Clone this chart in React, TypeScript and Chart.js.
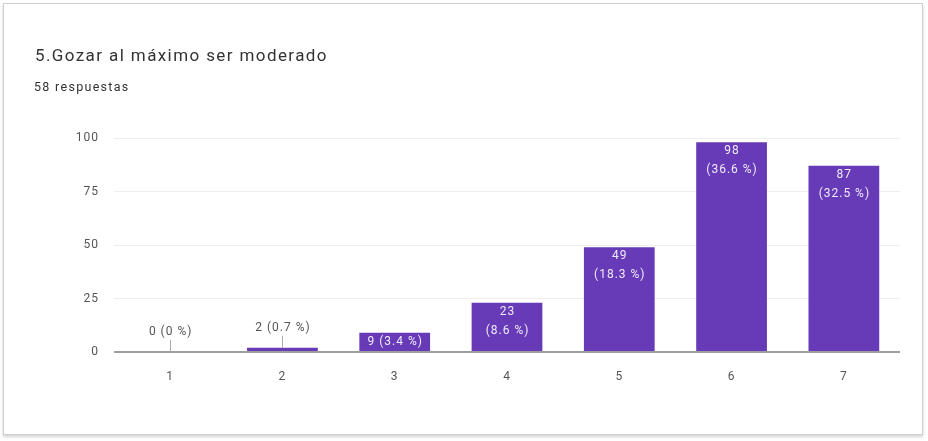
import React, { useEffect, useRef } from "react";
import { Chart, registerables } from "chart.js";

Chart.register(...registerables);

const TITLE = "5.Gozar al máximo ser moderado";
const SUBTITLE = "58 respuestas";
const CATEGORIES = ["1", "2", "3", "4", "5", "6", "7"];
const COUNTS = [0, 2, 9, 23, 49, 98, 87];
const Y_TICKS = [0, 25, 50, 75, 100];
const BAR_COLOR = "#673ab7";
const FONT = "Roboto, 'Liberation Sans', Arial, sans-serif";

const total = COUNTS.reduce((a, b) => a + b, 0);
function pctText(v: number): string {
  const p = Math.round((v / total) * 1000) / 10;
  return `${p} %`;
}

const spacing = {
  id: "spacing",
  beforeDraw(chart: any) {
    (chart.ctx as any).letterSpacing = "1px";
  },
};

const barLabels = {
  id: "barLabels",
  afterDatasetsDraw(chart: any) {
    const ctx = chart.ctx;
    const meta = chart.getDatasetMeta(0);
    ctx.save();
    (ctx as any).letterSpacing = "1px";
    ctx.font = `12px ${FONT}`;
    ctx.textAlign = "center";
    ctx.textBaseline = "middle";
    meta.data.forEach((bar: any, i: number) => {
      const v = COUNTS[i];
      const h = bar.base - bar.y;
      const x = bar.x + 0.5;
      if (h >= 40) {
        ctx.fillStyle = "rgba(255,255,255,0.9)";
        ctx.fillText(String(v), x, bar.y + 9);
        ctx.fillText(`(${pctText(v)})`, x, bar.y + 28);
      } else if (h >= 15) {
        ctx.fillStyle = "rgba(255,255,255,0.9)";
        ctx.fillText(`${v} (${pctText(v)})`, x, bar.y + 9);
      } else {
        const ty = bar.y - 20;
        ctx.fillStyle = "#555";
        ctx.fillText(`${v} (${pctText(v)})`, x, ty);
        ctx.strokeStyle = "#aaa";
        ctx.lineWidth = 1;
        ctx.beginPath();
        ctx.moveTo(Math.round(bar.x) + 0.5, ty + 8);
        ctx.lineTo(Math.round(bar.x) + 0.5, bar.y);
        ctx.stroke();
      }
    });
    ctx.restore();
  },
};

export default function App() {
  const ref = useRef<HTMLCanvasElement>(null);
  useEffect(() => {
    if (!ref.current) return;
    const chart = new Chart(ref.current, {
      type: "bar",
      data: {
        labels: CATEGORIES,
        datasets: [
          {
            data: COUNTS,
            backgroundColor: BAR_COLOR,
            barPercentage: 0.9,
            categoryPercentage: 0.7,
          },
        ],
      },
      options: {
        responsive: false,
        animation: false,
        events: [],
        layout: { padding: { top: 138, right: 28, bottom: 0, left: 0 } },
        plugins: {
          legend: { display: false },
          tooltip: { enabled: false },
          title: { display: false },
        },
        scales: {
          x: {
            grid: { display: false, drawTicks: false },
            border: { display: false },
            ticks: { color: "#555", font: { family: FONT, size: 12 }, padding: 18 },
            afterFit: (s: any) => {
              s.height = 89;
            },
          },
          y: {
            min: 0,
            max: 100,
            afterBuildTicks: (s: any) => {
              s.ticks = Y_TICKS.map((v) => ({ value: v }));
            },
            grid: {
              drawTicks: false,
              color: (c: any) => (c.tick && c.tick.value === 0 ? "#9e9e9e" : "#eeeeee"),
              lineWidth: (c: any) => (c.tick && c.tick.value === 0 ? 2 : 1),
            },
            border: { display: false },
            ticks: { color: "#555", font: { family: FONT, size: 12 }, padding: 15 },
            afterFit: (s: any) => {
              s.width = 114;
            },
          },
        },
      },
      plugins: [spacing, barLabels],
    });
    return () => chart.destroy();
  }, []);

  return (
    <div style={{ position: "absolute", left: 0, top: 0, width: 928, height: 441, background: "#fff", overflow: "hidden" }}>
      <div
        style={{
          position: "absolute",
          left: 3,
          top: 3,
          width: 918,
          height: 430,
          border: "1px solid #cfcfcf",
          boxShadow: "0 2px 3px rgba(0,0,0,0.18)",
          background: "#fff",
        }}
      />
      <canvas ref={ref} width={928} height={441} style={{ position: "absolute", left: 0, top: 0 }} />
      <div
        style={{
          position: "absolute",
          left: 35,
          top: 44,
          fontFamily: FONT,
          fontSize: 17,
          letterSpacing: "1.4px",
          color: "#333",
          whiteSpace: "nowrap",
          lineHeight: "22px",
        }}
      >
        {TITLE}
      </div>
      <div
        style={{
          position: "absolute",
          left: 34,
          top: 79,
          fontFamily: FONT,
          fontSize: 12.5,
          letterSpacing: "1.3px",
          color: "#333",
          whiteSpace: "nowrap",
          lineHeight: "16px",
        }}
      >
        {SUBTITLE}
      </div>
    </div>
  );
}
